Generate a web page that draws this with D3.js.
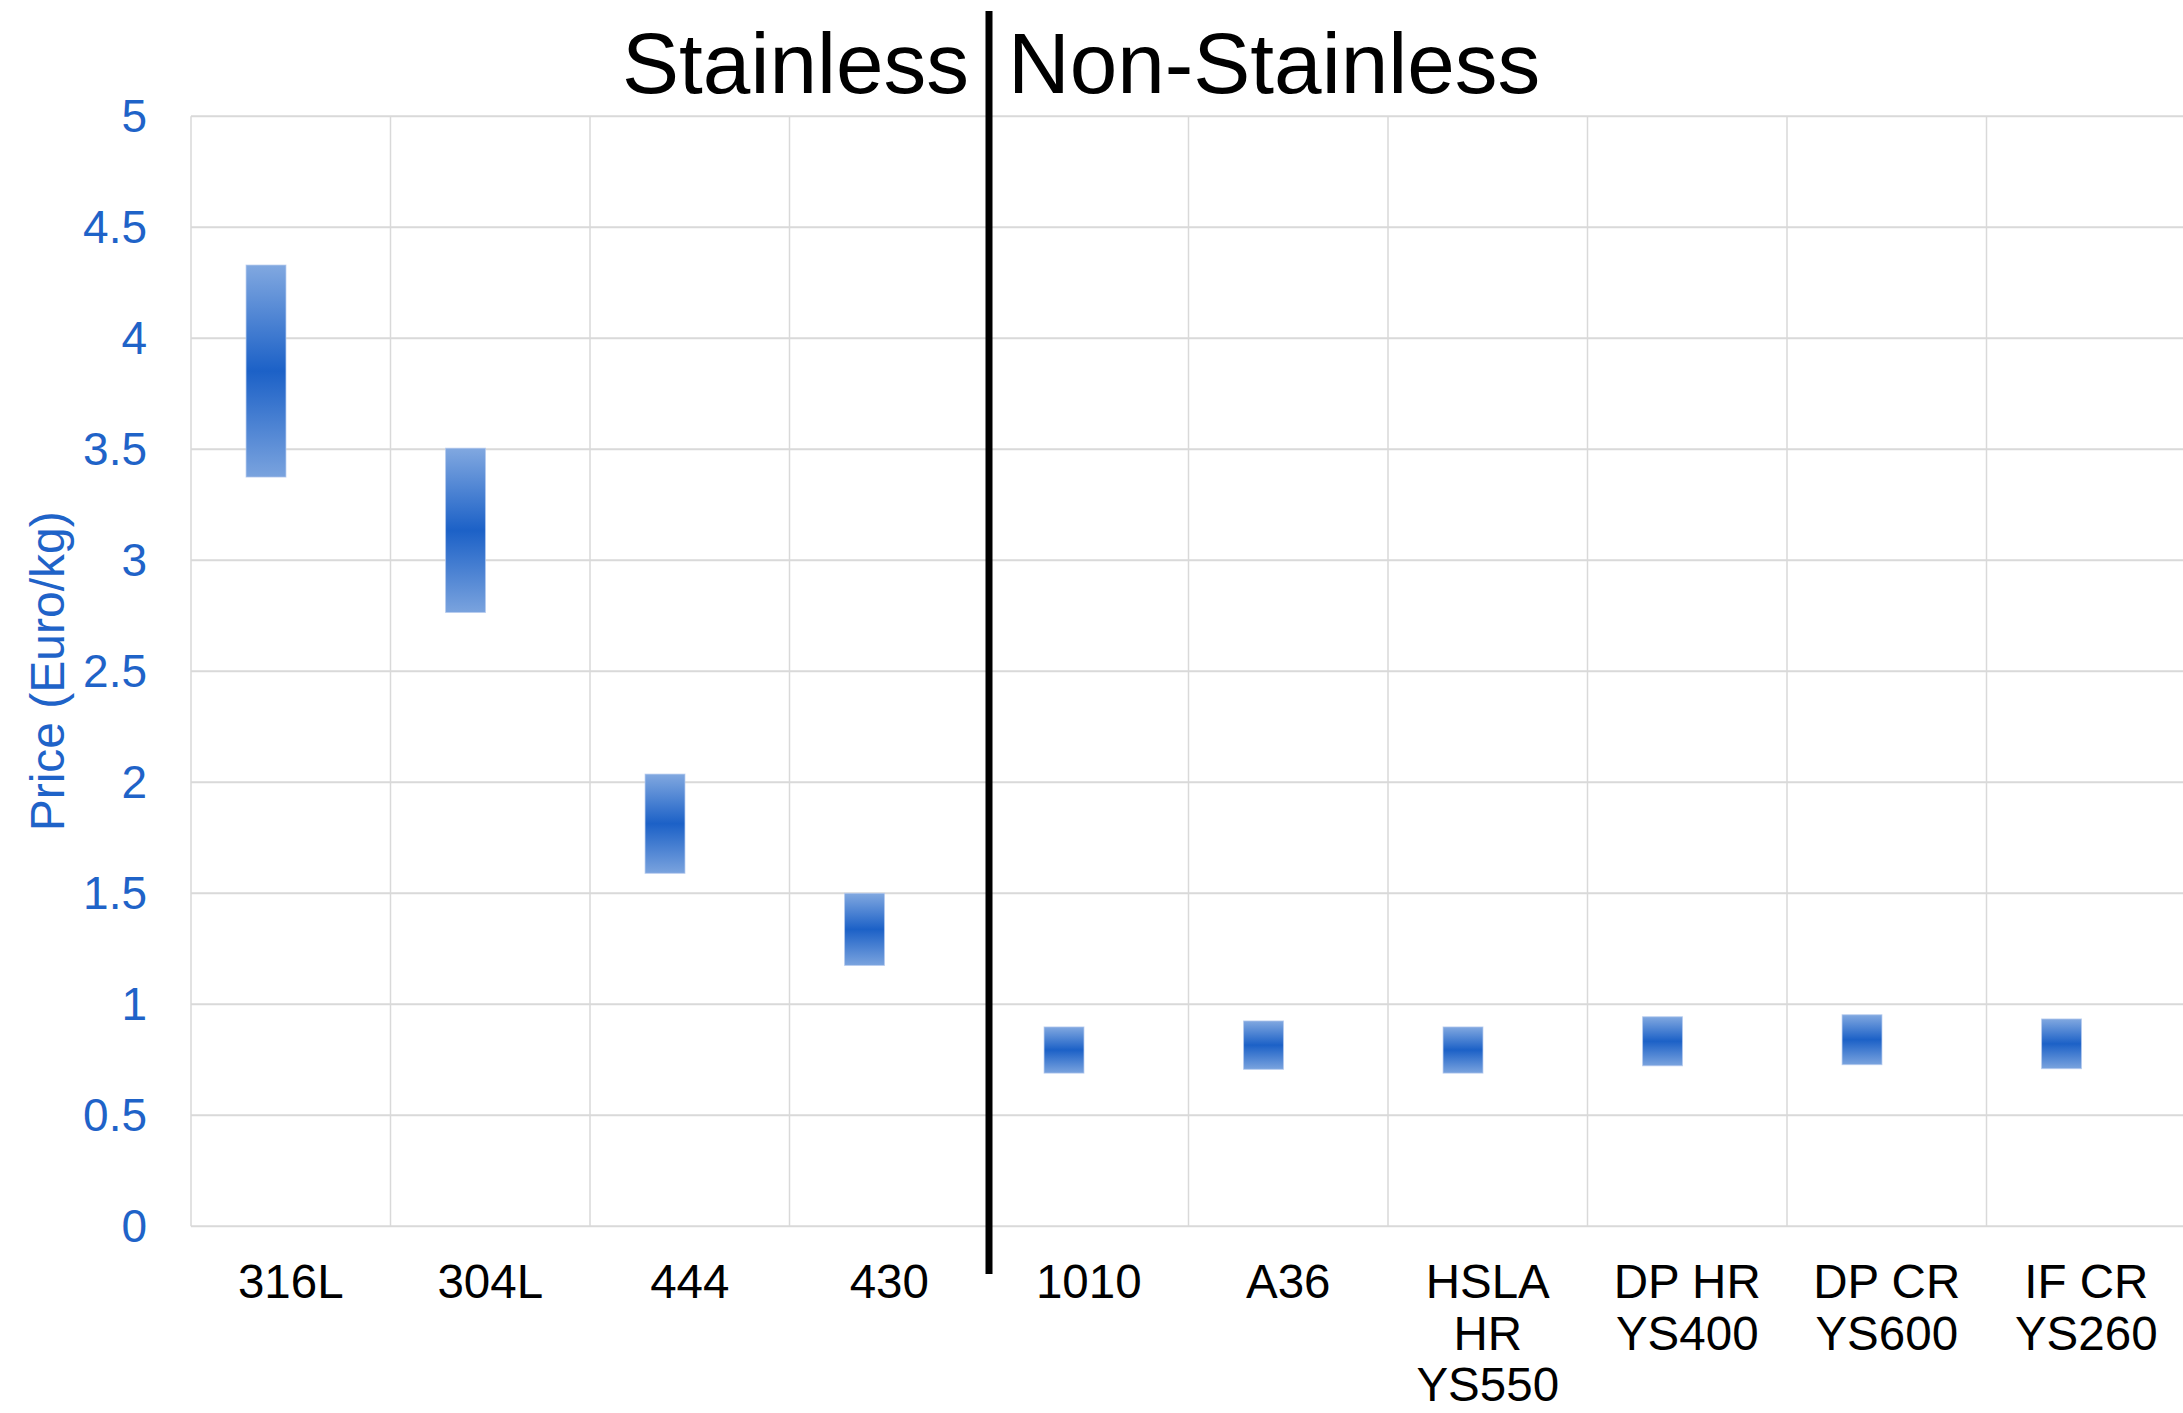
<!DOCTYPE html>
<html>
<head>
<meta charset="utf-8">
<script src="https://cdn.jsdelivr.net/npm/d3@7"></script>
<style>
  html, body { margin: 0; padding: 0; background: #ffffff; }
  svg { display: block; }
  text { font-family: "Liberation Sans", Arial, Helvetica, sans-serif; }
</style>
</head>
<body>
<svg id="chart" width="2183" height="1413"></svg>
<script>
// Steel grades on the category axis (multi-line labels as drawn under each column)
const categories = ["316L", "304L", "444", "430", "1010", "A36", "HSLA HR YS550", "DP HR YS400", "DP CR YS600", "IF CR YS260"];
const categoryLines = [["316L"], ["304L"], ["444"], ["430"], ["1010"], ["A36"], ["HSLA", "HR", "YS550"], ["DP HR", "YS400"], ["DP CR", "YS600"], ["IF CR", "YS260"]];

// Price range per grade, Euro/kg
const priceLow  = [3.375, 2.765, 1.59, 1.175, 0.69, 0.707, 0.69, 0.723, 0.728, 0.71];
const priceHigh = [4.33, 3.505, 2.037, 1.50, 0.898, 0.925, 0.898, 0.944, 0.953, 0.934];

// Value axis ticks
const yTicks = [0, 0.5, 1, 1.5, 2, 2.5, 3, 3.5, 4, 4.5, 5];
const yTickLabels = ["0", "0.5", "1", "1.5", "2", "2.5", "3", "3.5", "4", "4.5", "5"];

// Group headings and where the split falls
const groupNames = ["Stainless", "Non-Stainless"];
const firstNonStainless = "1010";
const yTitle = "Price (Euro/kg)";

const svg = d3.select("#chart");
const plot = { left: 191, right: 2186, top: 116.3, bottom: 1226.3 };

const x = d3.scaleBand().domain(categories).range([plot.left, plot.right]).paddingInner(0).paddingOuter(0);
const y = d3.scaleLinear().domain([0, 5]).range([plot.bottom, plot.top]);
const bw = x.bandwidth();

const blue = "#1f63c8";
const gridColor = "#d9d9d9";

// Vertical gradient used for each range column: pale ends, saturated middle
const defs = svg.append("defs");
const grad = defs.append("linearGradient")
  .attr("id", "rangeFill").attr("x1", 0).attr("y1", 0).attr("x2", 0).attr("y2", 1);
grad.append("stop").attr("offset", "0%").attr("stop-color", "#81a8e0");
grad.append("stop").attr("offset", "50%").attr("stop-color", "#1c61c7");
grad.append("stop").attr("offset", "100%").attr("stop-color", "#7aa3de");

// Horizontal gridlines
svg.append("g").selectAll("line").data(yTicks).join("line")
  .attr("x1", plot.left).attr("x2", plot.right)
  .attr("y1", d => y(d)).attr("y2", d => y(d))
  .attr("stroke", gridColor).attr("stroke-width", 2);

// Vertical gridlines at category boundaries
const boundaries = categories.map(c => x(c)).concat([x(categories[categories.length - 1]) + bw]);
svg.append("g").selectAll("line").data(boundaries).join("line")
  .attr("x1", d => d).attr("x2", d => d)
  .attr("y1", plot.top).attr("y2", plot.bottom)
  .attr("stroke", gridColor).attr("stroke-width", 1.5);

// Y axis labels
const yAxis = d3.axisLeft(y).tickValues(yTicks).tickFormat((d, i) => yTickLabels[i]).tickSize(0).tickPadding(44);
const gy = svg.append("g").attr("transform", `translate(${plot.left},0)`).call(yAxis);
gy.select(".domain").remove();
gy.selectAll("text").attr("fill", blue).attr("font-size", 46)
  .attr("font-family", '"Liberation Sans", Arial, sans-serif');

// Y axis title
svg.append("text")
  .attr("transform", `translate(64,${(plot.top + plot.bottom) / 2}) rotate(-90)`)
  .attr("text-anchor", "middle")
  .attr("font-size", 48).attr("fill", blue)
  .text(yTitle);

// X axis labels (multi-line)
const xAxis = d3.axisBottom(x).tickSize(0).tickFormat(() => "");
const gx = svg.append("g").attr("transform", `translate(0,${plot.bottom})`).call(xAxis);
gx.select(".domain").remove();
gx.selectAll(".tick").each(function (d) {
  const t = d3.select(this).select("text")
    .attr("y", 0).attr("dy", null)
    .attr("fill", "#000").attr("font-size", 47.5)
    .attr("font-family", '"Liberation Sans", Arial, sans-serif')
    .attr("text-anchor", "middle");
  categoryLines[categories.indexOf(d)].forEach((line, k) => {
    t.append("tspan").attr("x", 0).attr("y", 72 + k * 51.5).text(line);
  });
});

// Price range columns
const barOffset = 0.276, barFrac = 0.2;
svg.append("g").selectAll("rect").data(categories).join("rect")
  .attr("x", (c) => x(c) + bw * barOffset)
  .attr("width", bw * barFrac)
  .attr("y", (c, i) => y(priceHigh[i]))
  .attr("height", (c, i) => y(priceLow[i]) - y(priceHigh[i]))
  .attr("fill", "url(#rangeFill)")
  .attr("stroke", "#b3c9ee").attr("stroke-width", 1).attr("stroke-opacity", 0.7);

// Divider between stainless and non-stainless grades
const splitX = x(firstNonStainless);
svg.append("line")
  .attr("x1", splitX).attr("x2", splitX)
  .attr("y1", 11).attr("y2", 1274)
  .attr("stroke", "#000").attr("stroke-width", 7);

// Group headings either side of the divider
svg.append("text")
  .attr("x", splitX - 20).attr("y", 93)
  .attr("text-anchor", "end").attr("font-size", 85.5).attr("fill", "#000")
  .text(groupNames[0]);
svg.append("text")
  .attr("x", splitX + 19).attr("y", 93)
  .attr("text-anchor", "start").attr("font-size", 85.5).attr("fill", "#000")
  .text(groupNames[1]);
</script>
</body>
</html>
